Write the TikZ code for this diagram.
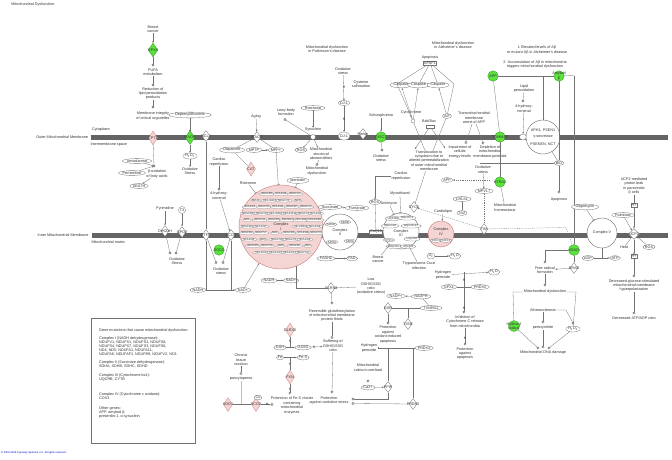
\documentclass[tikz,border=0pt]{standalone}
\usepackage{fontspec}
\setmainfont{Liberation Sans}
\usetikzlibrary{shapes.geometric,arrows.meta}
\definecolor{gfill}{RGB}{90,225,60}
\definecolor{gdraw}{RGB}{50,150,40}
\definecolor{pfill}{RGB}{245,212,212}
\definecolor{pdraw}{RGB}{205,130,130}
\definecolor{lgray}{RGB}{115,115,115}
\definecolor{mbar}{RGB}{100,100,100}
\tikzset{
 txt/.style={font=\fontsize{3.75}{4.35}\selectfont, text=black!80, inner sep=0.3pt},
 lbl/.style={txt, align=center},
 ov/.style={txt, ellipse, draw=lgray, line width=0.3pt, fill=white, inner sep=0.3pt, minimum height=4.8pt, minimum width=7pt},
 ovs/.style={ellipse, draw=lgray, line width=0.25pt, fill=white, inner sep=0.2pt, font=\fontsize{2.9}{3.2}\selectfont, text=black!80},
 nd/.style={ellipse, draw=lgray!80, fill=white, line width=0.25pt, inner sep=0.1pt, font=\fontsize{2.8}{3}\selectfont, text=black!80},
 dm/.style={diamond, draw=lgray, fill=white, line width=0.3pt, minimum width=8pt, minimum height=11pt, inner sep=0pt, label={[txt]center:#1}},
 gdm/.style={diamond, draw=gdraw, fill=gfill, line width=0.3pt, minimum width=9.5pt, minimum height=14pt, inner sep=0pt, label={[txt]center:#1}},
 gnode/.style={circle, draw=gdraw, fill=gfill, line width=0.3pt, minimum size=10.5pt, inner sep=0pt, label={[txt,align=center]center:#1}},
 pdm/.style={diamond, draw=pdraw, fill=pfill, line width=0.3pt, minimum width=9pt, minimum height=14pt, inner sep=0pt, label={[txt]center:#1}},
 sc/.style={circle, draw=black!70, fill=white, line width=0.3pt, minimum size=2.4pt, inner sep=0pt},
 rbox/.style={txt, rectangle, draw=lgray, fill=white, line width=0.3pt, inner sep=0.6pt},
 cx/.style={txt, circle, draw=lgray, fill=white, line width=0.45pt, inner sep=0pt},
 cxp/.style={txt, circle, draw=pdraw, fill=pfill, line width=0.45pt, inner sep=0pt},
 ln/.style={draw=lgray, line width=0.3pt},
 ar/.style={ln, -{Stealth[length=2pt,width=1.7pt]}},
 inh/.style={ln, -{Bar[width=2.6pt,line width=0.4pt]}},
 dsh/.style={ln, dash pattern=on 1.2pt off 1pt},
 xm/.style={font=\fontsize{4}{4}\selectfont\bfseries, inner sep=0pt, text=black!85},
}
\begin{document}
\begin{tikzpicture}[x=1pt,y=-1pt]
\useasboundingbox (0,0) rectangle (672,459);
\fill[white] (0,0) rectangle (672,459);

% membranes
\fill[mbar] (91,135) rectangle (668,139.8);
\fill[mbar] (92,233) rectangle (668,238);
\node[txt, anchor=west] (title) at (11,5) {Mitochondrial Dysfunction};
\node[txt, anchor=east] (omm) at (88.5,137.3) {Outer Mitochondrial Membrane};
\node[txt] (cyto) at (101,130) {Cytoplasm};
\node[txt, anchor=west] (ims) at (90,145) {Intermembrane space};
\node[txt, anchor=east] (imm) at (89,235.5) {Inner Mitochondrial Membrane};
\node[txt, anchor=west] (matrix) at (91,242.5) {Mitochondrial matrix};

% GPX4 chain
\node[lbl] (bca) at (153,29) {Breast\\cancer};
\node[gdm=GPX4] (gpx4) at (153,50) {};
\node[sc] (s1) at (153,65) {};
\node[lbl] (pufa) at (153,72.5) {PUFA\\metabolism};
\node[sc] (s2) at (153,85) {};
\node[lbl] (rlp) at (153,93.5) {Reduction of\\lipid peroxidation\\products};
\node[sc] (s3) at (153,107) {};
\node[lbl] (mic) at (153,116) {Membrane integrity\\of critical organelles};
\draw[ar] (bca) -- (gpx4);
\draw[ln] (gpx4) -- (s1);
\draw[ln] (pufa) -- (s2);
\draw[ln] (rlp) -- (s3);

% CPT1
\node[pdm=CPT1] (cpt1) at (153,138) {};
\node[sc] (s4) at (154,166) {};
\node[ov] (amio) at (137,161) {Amiodarone};
\node[ov] (perh) at (132,173) {Perhexiline};
\node[lbl] (boxf) at (157,174) {β-oxidation\\of fatty acids};
\node[ov] (death) at (139,186) {DEATH};
\draw[ln] (cpt1) -- (s4);
\draw[inh] (amio) -- (s4);
\draw[inh] (perh) -- (s4);
\draw[ar] (boxf) -- (death);

% MAOA
\node[ov] (depr) at (190,115) {Deprenyl/Biocene};
\node[gdm=MAOA] (maoa) at (190,137.5) {};
\node[ov] (h2o2a) at (190,156) {H\textsubscript{2}O\textsubscript{2}};
\node[lbl] (oxa) at (190,171) {Oxidative\\Stress};
\draw[inh] (depr) -- (maoa);
\draw[ar] (maoa) -- (h2o2a);
\draw[ar] (h2o2a) -- (oxa);

% BCL2 / ETF / ACO
\node[dm=BCL2] (bcl2) at (206,136) {};
\node[dm=ETFD] (etf) at (206,235) {};
\node[dm=ACO2] (aco) at (231,235) {};
\node[gnode=SOD2] (gsod) at (219,250) {};
\node[sc] (s5) at (216,262.5) {};
\node[sc] (s6) at (223,262.5) {};
\node[lbl] (oxb) at (221,271) {Oxidative\\stress};
\draw[ln] (bcl2) -- (etf);
\draw[ln] (etf) -- (s5);
\draw[ln] (aco) -- (s6);
\node[ov] (nadh1) at (198,290) {NADH};
\node[ov] (nad1) at (243,290) {NAD+};
\draw[ar] (nadh1) -- (nad1);
\coordinate (j1) at (206,290);
\coordinate (j2) at (231,290);
\draw[ln] (etf) -- (j1);
\draw[ln] (aco) -- (j2);
\node[lbl] (carda) at (219,162) {Cardiac\\reperfusion};
\node[sc] (s7) at (219,189) {};
\node[lbl] (hne1) at (219,195.5) {4-hydroxy-\\nonenal};
\draw[ln] (carda) -- (s7);
\draw[ar] (hne1) -- (aco);

% DHODH / GPD2
\node[lbl] (pyr) at (165,209) {Pyrimidine};
\node[circle, draw=lgray, fill=white, line width=0.3pt, txt, minimum size=7pt, inner sep=0pt] (t3) at (182,210) {T3};
\node[dm=DHODH] (dhodh) at (165,231) {};
\node[dm=GPD2] (gpd2) at (182,232) {};
\node[sc] (s8) at (170,253) {};
\node[sc] (s9) at (176,253) {};
\node[lbl] (oxc) at (177,261) {Oxidative\\Stress};
\draw[ar] (pyr) -- (dhodh);
\draw[ar] (t3) -- (gpd2);
\draw[ln] (dhodh) -- (s8);
\draw[ln] (gpd2) -- (s9);

% MAOB
\node[lbl] (aging) at (256,117) {Aging};
\node[dm=MAOB] (maob) at (257,137) {};
\node[ov] (dopa) at (232,150) {Dopamine};
\node[ov] (mptp) at (254,150) {MPTP};
\node[ov] (mpp) at (276,150) {MPP+};
\draw[ar] (aging) -- (maob);
\draw[ln] (maob) -- (dopa);
\draw[ln] (maob) -- (mpp);
\draw[ar] (mptp) -- (mpp);
\node[pdm=CAT] (cat) at (251,169) {};
\draw[ln] (dopa) -- (cat);

% Lewy / synuclein
\node[lbl] (lewy) at (286,112) {Lewy body\\formation};
\node[sc] (s10) at (285,119.5) {};
\node[ov] (rot2) at (313,108) {Rotenone};
\node[lbl] (syn) at (313,130) {Synuclein};
\node[circle, draw=lgray, fill=white, line width=0.3pt, minimum size=5pt, inner sep=0pt] (snca) at (313,137) {};
\node[ov] (ros1) at (301,150) {ROS};
\node[lbl] (msa) at (321,154) {Mitochondrial\\structural\\abnormalities};
\node[sc] (s11) at (317,164.5) {};
\node[lbl] (mdpd) at (317,171) {Mitochondrial\\dysfunction};
\draw[ln] (s10) -- (snca);
\draw[ar] (rot2) -- (syn);
\draw[ar] (snca) -- (ros1);
\draw[ar] (snca) -- (msa);
\draw[ln] (msa) -- (s11);
\node[lbl] (pdlab) at (327,49) {Mitochondrial dysfunction\\in Parkinson's disease};

% DJ-1
\node[lbl] (oxd) at (343,71) {Oxidative\\stress};
\node[lbl] (cyss) at (361,84) {Cysteine\\sulfonation};
\node[ov] (dj1a) at (344,103) {DJ-1};
\node[ov, minimum width=11pt, minimum height=8pt] (dj1b) at (344,136) {DJ-1};
\draw[ar] (oxd) -- (dj1a);
\draw[ar] (dj1a) -- (dj1b);
\node[xm] (x1) at (344,87) {×};
\node[xm] (x2) at (344,119) {×};
\node[dm=Parkin] (parkin) at (363,134) {};
\node[lbl] (schz) at (381,116) {Schizophrenia};
\node[gnode=DISC1] (disc1) at (381,137) {};
\node[sc] (s12) at (382,150) {};
\node[lbl] (oxe) at (381,158) {Oxidative\\stress};
\draw[ar] (schz) -- (disc1);
\draw[ln] (disc1) -- (s12);

% Apoptosis block
\node[lbl] (apop1) at (430,57.5) {Apoptosis};
\node[rbox] (apaf) at (430,63) {APAF1};
\node[ov] (csp1) at (401,85) {Caspase};
\node[ov] (csp2) at (418.5,85) {Caspase};
\node[ov] (csp3) at (438,85) {Caspase};
\node[lbl] (cytcl) at (411,114) {Cytochrome\\c};
\node[circle, draw=lgray, fill=white, line width=0.3pt, minimum size=4pt, inner sep=0pt] (cytc) at (413,121) {};
\node[ov] (aif) at (447,116) {AIF};
\coordinate (ap1) at (397,84);
\coordinate (ap2) at (454,84);
\draw[ln] (apaf) -- (ap1) -- (cytc);
\draw[ln] (apaf) -- (ap2) -- (aif);
\draw[ln] (apaf) -- (csp2);
\draw[ln] (apaf) -- (csp3);
\draw[ar] (cytc) -- (csp1);
\draw[ar] (cytc) -- (csp2);
\draw[ar] (aif) -- (csp3);
\node[lbl] (bakl) at (429,121) {Bak/Bax};
\node[rbox, minimum width=8pt, minimum height=3pt] (bak) at (430,126.5) {};
\coordinate (bk1) at (415,149);
\coordinate (bk2) at (445,148);
\draw[ar] (bak) -- (bk1);
\draw[ar] (bak) -- (bk2);
\node[lbl] (transl) at (429,160.5) {Translocation to\\cytoplasm due to\\altered permeabilization\\of outer mitochondrial\\membrane};
\draw[ln] (cytc) -- (transl);
\draw[ln] (aif) -- (transl);
\node[lbl] (adlab) at (453,45) {Mitochondrial dysfunction\\in Alzheimer's disease};

% APP region
\node[gnode=APP] (app) at (493,76) {};
\node[gnode=TOMM40] (tom) at (500,137) {};
\draw[ln] (app) -- (tom);
\node[lbl] (tmarr) at (474,118) {Transmitochondrial\\membrane\\arrest of APP};
\node[sc] (s13) at (466,142.5) {};
\node[sc] (s14) at (483,143) {};
\node[lbl] (impair) at (460,152) {Impairment of\\cellular\\energy levels};
\node[lbl] (deplet) at (490,152) {Depletion of\\mitochondrial\\membrane potential};
\draw[ln] (tmarr) -- (s13);
\draw[ln] (tmarr) -- (s14);
\node[lbl] (ab1) at (537,50) {1 Elevated levels of Aβ\\or mutant Aβ in Alzheimer's disease};
\node[lbl] (ab2) at (535,64.5) {2. Accumulation of Aβ in mitochondria\\triggers mitochondrial dysfunction};
\node[gnode={Amyloid\\β}] (abeta) at (559,76) {};
\coordinate (hz1) at (574,75.5);
\coordinate (v543) at (543,75.5);
\draw[ln] (app) -- (abeta);
\draw[ln] (abeta) -- (hz1);
\node[lbl] (lipp) at (524,88.5) {Lipid\\peroxidation};
\node[sc] (s15) at (523,101) {};
\node[lbl] (hne2) at (524,108.5) {4-hydroxy-\\nonenal};
\node[ellipse, draw=lgray, fill=white, line width=0.3pt, minimum width=7pt, minimum height=6pt, inner sep=0pt] (ant) at (523,137) {};
\draw[ln] (lipp) -- (s15);
\draw[ar] (hne2) -- (ant);
\node[cx, minimum size=34pt] (mpt) at (543,137) {};
\node[txt] (mptl1) at (543,130) {APH1, PSEN1};
\node[txt] (mptl2) at (543,137) {γ-secretase};
\node[txt] (mptl3) at (543,144) {PSENEN, NCT};
\draw[ln] (v543) -- (mpt);
\node[ov] (bid) at (559,163) {BID};
\node[sc] (s16) at (559,192) {};
\node[lbl] (apop2) at (559,199.5) {Apoptosis};
\draw[ln] (abeta) -- (bid);
\draw[ln] (mpt) -- (bid);
\draw[ln] (bid) -- (s16);
\coordinate (bidl) at (480,163);
\draw[ln] (bidl) -- (bid);

% matrix right
\node[lbl] (oxf) at (483,169.5) {Oxidative\\stress};
\node[ov] (mtx) at (484,191) {MPV17};
\node[gnode=HTRA2] (htra2) at (500,182) {};
\node[lbl] (mhom) at (505,207.5) {Mitochondrial\\homeostasis};
\draw[ar] (oxf) -- (mtx);
\draw[ln] (tom) -- (htra2);
\draw[ln] (htra2) -- (mhom);
\node[dm=TIM] (tim) at (484,229) {};
\draw[dsh] (mtx) -- (tim);
\coordinate (dd1) at (566,227.5);
\node[gnode=ABAD, minimum size=11pt] (abad) at (574,250) {};
\draw[dsh] (tim) -- (dd1) -- (abad);
\draw[ln] (hz1) -- (abad);
\node[ov] (app2) at (447,180) {APP};
\coordinate (dd2) at (490,180);
\draw[dsh, -{Stealth[length=2pt,width=1.7pt]}] (dd2) -- (app2);

% Complex I
\node[cxp, minimum size=84pt] (c1) at (281,227) {};
\foreach \px/\py/\nm [count=\i] in {267/194/NDUFB8, 281/194/NDUFA9, 295/194/NDUFS2,
 256/200.5/ND4L, 270/200.5/NDUFA13, 284/200.5/NDUFV1, 298/200.5/ND5,
 250/207/NDUFA1, 264/207/NDUFS5, 278/207/NDUFA4, 292/207/NDUFB7, 306/207/NDUFV2,
 248/213.5/NDUFB6, 262/213.5/NDUFS3, 276/213.5/NDUFA10, 290/213.5/NDUFB10, 304/213.5/NDUFC2, 316/213.5/NDUFA2,
 247/220/ND1, 260/220/NDUFS1, 274/220/NDUFB3, 288/220/NDUFA11, 302/220/NDUFA12, 315/220/NDUFAB1,
 247/226.5/NDUFB4, 261/226.5/NDUFA7, 301/226.5/NDUFB11, 315/226.5/NDUFA3,
 247/233/NDUFB2, 261/233/NDUFS7, 275/233/ND2, 289/233/NDUFB9, 303/233/NDUFA8, 316/233/NDUFV3,
 249/239.5/NDUFA5, 263/239.5/ND3, 277/239.5/NDUFS6, 291/239.5/NDUFC1, 305/239.5/NDUFA6,
 253/246/NDUFB5, 267/246/NDUFS8, 281/246/ND6, 295/246/NDUFB1, 308/246/ND4,
 262/252.5/NDUFAF2, 276/252.5/NDUFAF3, 290/252.5/NDUFAF4, 303/252.5/NDUFS4}
 {\node[nd] (nd\i) at (\px,\py) {\nm};}
\node[txt, align=center] (c1l) at (281,226.5) {Complex\\I};
\node[lbl] (rot1) at (248,183) {Rotenone};
\node[ov] (pier) at (298,180.5) {piericidin};
\draw[inh] (rot1) -- (c1);
\draw[inh] (mpp) -- (c1);
\draw[inh] (pier) -- (c1);
\draw[ar] (nad1) -- (c1);
\node[ov] (nadh2) at (269,280.5) {NADH};
\node[ov] (nad2) at (291,280.5) {NAD+};
\draw[ar] (nadh2) -- (nad2);

% Complex II
\node[cx, minimum size=36pt] (c2) at (340,232) {};
\node[ovs] (sdhb) at (345,222) {SDHB};
\node[ovs] (sdhd) at (331,224.5) {SDHD};
\node[txt, align=center] (c2l) at (340,232) {Complex\\II};
\node[ovs] (sdhc) at (350,241) {SDHC};
\node[ovs] (sdha) at (332,242) {SDHA};
\node[ov] (succ) at (330,207) {Succinate};
\node[ov] (fum) at (357,208) {Fumarate};
\draw[ar] (succ) -- (fum);
\draw[ln] (c1) -- (succ);
\node[ov] (fadh) at (326,258.5) {FADH2};
\node[ov] (fad) at (352,258.5) {FAD};
\draw[ar] (fadh) -- (fad);

% CoQ + Complex III
\node[rbox] (coq) at (376,232) {CoQ10};
\node[cx, minimum size=36pt] (c3) at (401,231) {};
\node[ovs] (q1) at (393,218.5) {UQCRQ};
\node[ovs] (q2) at (407,218) {UQCRC1};
\node[ovs] (q3) at (390,226) {UQCR10};
\node[ovs] (q4) at (411,226) {UQCRFS1};
\node[txt, align=center] (c3l) at (401,233) {Complex\\III};
\node[ovs] (q5) at (389,240) {CYC1};
\node[ovs] (q6) at (412,239) {UQCRH};
\node[ovs] (q7) at (395,246.5) {UQCRC2};
\node[ovs] (q8) at (408,246.5) {UQCRB};
\node[lbl] (card2) at (401,176) {Cardiac\\reperfusion};
\node[ov] (ros2) at (375,202) {ROS};
\coordinate (cr1) at (375,176);
\draw[ln] (card2) -- (cr1);
\draw[ar] (cr1) -- (ros2);
\draw[ln] (ros2) -- (coq);
\node[lbl] (myxo) at (400,194) {Myxothiazol};
\node[lbl] (anti) at (389,203.5) {Antimycin};
\draw[inh] (myxo) -- (c3);
\draw[inh] (anti) -- (c3);
\node[dm=CYCS] (cycs) at (414,207) {};
\draw[ln] (cycs) -- (transl);
\draw[dsh, -{Stealth[length=2pt,width=1.7pt]}] (tim) -- (cycs);
\node[lbl] (bca2) at (378,259) {Breast\\cancer};
\node[lbl] (tcruzi) at (419,265.5) {Trypanosoma Cruzi\\infection};
\draw[ar] (bca2) -- (c3);
\draw[ln] (c3) -- (tcruzi);

% Complex IV
\node[cxp, minimum size=26pt] (c4) at (441,234) {};
\node[txt, align=center] (c4l) at (441,231.5) {Complex\\IV};
\node[ovs] (cox1) at (436,240.5) {COX1};
\node[ovs] (cox3) at (446,240.5) {COX3};
\node[lbl] (cardl) at (443,212) {Cardiolipin};
\node[ov] (crl) at (462,199) {CRLS1};
\node[ov] (taz) at (462,213) {TAZ};
\draw[ln] (crl) -- (taz);
\draw[ar] (cardl) -- (c4);
\node[ov] (o2) at (431,256) {O\textsubscript{2}};
\node[ov] (h2o) at (455,256) {H\textsubscript{2}O};
\draw[ar] (o2) -- (h2o);

% peroxide detox
\node[lbl] (hp1) at (443,275) {Hydrogen\\peroxide};
\node[ov] (h2ob) at (494,272) {H\textsubscript{2}O};
\draw[ar] (hp1) -- (h2ob);
\node[ov] (gpx1) at (449,287) {GPX1};
\node[ov] (prdx5) at (480,287) {PRDX5};
\draw[ln] (gpx1) -- (prdx5);
\coordinate (v464) at (464,272);
\node[sc] (s17) at (464,312) {};
\draw[ln] (v464) -- (s17);
\node[xm] (x6) at (464,280) {×};
\node[xm] (x7) at (464,308) {×};
\node[lbl] (inhcyt) at (465,321.5) {Inhibition of\\Cytochrome C release\\from mitochondria};
\node[sc] (s18) at (465,344) {};
\node[lbl] (protap) at (465,353.5) {Protection\\against\\apoptosis};
\draw[ln] (inhcyt) -- (s18);
\node[xm] (x8) at (465,338) {×};

% GSH region
\node[lbl] (lowgsh) at (371,286.5) {Low\\GSH/GSSG\\ratio\\(oxidative stress)};
\node[dm=GLRX2] (glrx2) at (331,288) {};
\draw[ar] (lowgsh) -- (glrx2);
\coordinate (jg0) at (296,266);
\coordinate (jg) at (296,288);
\draw[ln] (jg0) -- (jg) -- (glrx2);
\node[sc] (s19) at (332,303) {};
\node[lbl] (revgl) at (332,315.5) {Reversible glutathionylation\\of mitochondrial membrane\\protein thiols};
\draw[ln] (glrx2) -- (s19);
\node[ov] (nadp) at (396,296) {NADP+};
\node[ov] (nadph) at (421,296.5) {NADPH};
\draw[ar] (nadph) -- (nadp);
\node[dm=GSR] (gsr) at (388,308) {};
\node[ov] (txnrd) at (431,308) {TXNRD2};
\draw[ln] (gsr) -- (txnrd);
\draw[ln] (nadph) -- (txnrd);
\node[dm=TXN2] (txn2) at (408,324) {};
\coordinate (j408) at (408,308);
\draw[ln] (j408) -- (txn2);
\node[sc] (s20) at (388,323) {};
\node[lbl] (protox) at (388,334.5) {Protection\\against\\oxidant-induced\\apoptosis};
\draw[ln] (gsr) -- (s20);
\node[lbl] (hp2) at (369,348) {Hydrogen\\peroxide};
\node[ov] (prdx3) at (424,348) {PRDX3};
\draw[inh] (prdx3) -- (hp2);
\coordinate (j388a) at (388,348);
\coordinate (j413a) at (413,348);
\node[dm=PPIF] (ppif) at (388,387) {};
\node[dm=PRDX5] (prdx5b) at (413,404) {};
\draw[ln] (j388a) -- (ppif);
\draw[ln] (j413a) -- (prdx5b);
\node[lbl] (mcao) at (368,367.5) {Mitochondrial\\calcium overload};
\node[sc] (s21) at (368,381) {};
\node[ov] (ca) at (368,387.5) {Ca2+};
\draw[ar] (ca) -- (ppif);
\node[sc] (s22) at (353,399) {};
\node[sc] (s23) at (353,403.5) {};
\node[lbl] (protox2) at (329,400.5) {Protection\\against oxidative stress};
\coordinate (j388b) at (388,399);
\draw[ln] (ppif) -- (j388b) -- (s22);
\draw[ln] (prdx5b) -- (s23);

% buffering / FXN
\node[pdm=GLRX5] (glrx5) at (290,330) {};
\node[xm] (x3) at (290,341.5) {×};
\node[ov] (gsh1) at (280,347.5) {GSH};
\node[ov] (gssg1) at (303,347.5) {GSSG};
\draw[ar] (gsh1) -- (gssg1);
\coordinate (j290a) at (290,347.5);
\draw[ln] (glrx5) -- (j290a);
\node[sc] (s24) at (332,337.5) {};
\node[lbl] (buff) at (333,346) {Buffering of\\GSH/GSSG\\ratio};
\draw[ar] (gssg1) -- (buff);
\node[xm] (x9) at (314,347.5) {×};
\draw[ln] (revgl) -- (s24);
\node[sc] (s25) at (332,392) {};
\draw[ln] (buff) -- (s25);
\node[ov] (fe1) at (280,357.5) {Fe};
\node[ov] (fes) at (303,357.5) {Fe-S};
\draw[ar] (fe1) -- (fes);
\node[xm] (x4) at (290,364) {×};
\node[pdm=FXN] (fxn) at (290,377) {};
\node[xm] (x5) at (290,389.5) {×};
\node[sc] (s26) at (290,393) {};
\node[lbl] (protfes) at (292,405.5) {Protection of Fe-S cluster\\containing\\mitochondrial\\enzymes};
\coordinate (j290b) at (290,357.5);
\draw[ln] (j290b) -- (fxn);
\draw[ln] (fxn) -- (s26);

% chronic
\node[lbl] (chron) at (241,360) {Chronic\\tissue\\reaction};
\node[sc] (s27) at (241,373.5) {};
\node[lbl] (panc) at (241,379) {pancytopenia};
\coordinate (j241) at (241,404.5);
\draw[ln] (chron) -- (s27);
\draw[draw=black!25, line width=0.6pt] (panc) -- (j241);
\node[pdm=SOD1] (sod1) at (228,404.5) {};
\node[pdm=SCO2] (sco2) at (256,404.5) {};
\node[ov] (cu) at (258,397.5) {Cu};
\draw[ln] (sod1) -- (sco2);
\node[sc] (s28) at (272,404.5) {};
\draw[ar] (sco2) -- (s28);
\node[xm] (x10) at (267,404.5) {×};

% Complex V & UCP2
\node[cx, minimum size=30pt] (c5) at (602,233) {Complex V};
\node[ov] (oligo) at (585,207) {Oligomycin};
\draw[inh] (oligo) -- (c5);
\node[ov] (adp) at (588,258) {ADP};
\node[ov] (atp) at (615,258) {ATP};
\draw[ar] (adp) -- (atp);
\coordinate (j602) at (602,258);
\draw[ln] (c5) -- (j602);
\node[dm=UCP2, minimum width=11pt] (ucp2) at (634,234) {};
\node[rbox] (hp) at (634,205.5) {H+};
\node[rbox] (hm) at (634,256.5) {H+};
\node[ov] (palm) at (623,215) {Palmitate};
\node[lbl] (heat) at (624,247.5) {Heat};
\node[ov] (ros3) at (649,247) {ROS};
\node[lbl] (ucpl) at (634,186) {UCP2 mediated\\proton leak\\in pancreatic\\β cells};
\draw[ln] (ucpl) -- (hp);
\draw[ar] (hp) -- (ucp2);
\draw[ar] (ucp2) -- (hm);
\draw[ar] (palm) -- (ucp2);
\draw[ar] (ros3) -- (ucp2);
\draw[ln] (ucp2) -- (heat);
\node[sc] (s29) at (634,276) {};
\node[lbl] (decglu) at (634,285.5) {Decreased glucose-stimulated\\mitochondrial membrane\\hyperpolarization};
\draw[ln] (hm) -- (s29);
\node[sc] (s30) at (634,313) {};
\node[lbl] (decatp) at (634,318.5) {Decreased ATP/ADP ratio};
\draw[ln] (decglu) -- (s30);

% ABAD
\node[dm=ERAB] (abdm) at (574,268) {};
\node[sc] (s31) at (545,262) {};
\node[lbl] (frf) at (545,270) {Free radical\\formation};
\coordinate (j545) at (545,250);
\draw[ln] (abad) -- (j545) -- (s31);
\draw[ar] (abdm) -- (frf);
\draw[ln] (abad) -- (abdm);
\node[sc] (s32) at (545,285) {};
\node[lbl] (mdad) at (545,292) {Mitochondrial dysfunction};
\draw[ln] (frf) -- (s32);
\coordinate (ml1) at (513,292);
\coordinate (mr1) at (576,292);

% DNA damage
\node[lbl] (ather) at (543,310) {Atherosclerosis};
\node[sc] (s33) at (543,322) {};
\node[lbl] (pnx) at (543,328) {peroxynitrite};
\node[gnode={Hydroxyl\\radical}, minimum size=11pt] (hydrox) at (514,326) {};
\node[sc] (s34) at (573,323) {};
\node[ov] (h2o2c) at (573,329) {H\textsubscript{2}O\textsubscript{2}};
\draw[ln] (mdad) -- (ml1) -- (hydrox);
\draw[ln] (mdad) -- (mr1) -- (h2o2c);
\coordinate (ath1) at (566,310);
\draw[ln] (ather) -- (ath1) -- (s34);
\draw[ln] (ather) -- (s33);
\node[sc] (s35) at (538,348) {};
\node[sc] (s36) at (543,347) {};
\node[sc] (s37) at (549,348) {};
\node[lbl] (mtdna) at (543,353) {Mitochondrial DNA damage};
\draw[ln] (hydrox) -- (s35);
\draw[ln] (pnx) -- (s36);
\draw[ln] (h2o2c) -- (s37);

% gene box
\node[draw=black!55, line width=0.4pt, minimum width=104pt, minimum height=125pt, anchor=north west, inner sep=0pt] (genebox) at (91,318) {};
\node[anchor=north west, align=left, font=\fontsize{3.75}{4.0}\selectfont, text=black!80, inner sep=0pt] (genetxt) at (99,329) {Gene mutations that cause mitochondrial dysfunction:\\[4pt]
Complex I (NADH dehydrogenase):\\
NDUFV1, NDUFS1, NDUFS2, NDUFS8,\\
NDUFS4, NDUFS7, NDUFS3, NDUFS6,\\
ND4, ND5, NDUFA1, NDUFA11,\\
NDUFA8, NDUFAF1, NDUFB9, NDUFV2, ND1\\[4pt]
Complex II (Succinate dehydrogenase):\\
SDHA, SDHB, SDHC, SDHD\\[5pt]
Complex III (Cytochrome bc1):\\
UQCRB, CYTB\\[11pt]
Complex IV (Cytochrome c oxidase):\\
COX3\\[6pt]
Other genes:\\
APP, amyloid β,\\
presenilin-1, α-synuclein};

\node[anchor=west, font=\fontsize{2.6}{3}\selectfont, text=blue!75!black, inner sep=0pt] (copy) at (1,452.5) {© 2000-2009 Ingenuity Systems, Inc. All rights reserved.};
\end{tikzpicture}
\end{document}
